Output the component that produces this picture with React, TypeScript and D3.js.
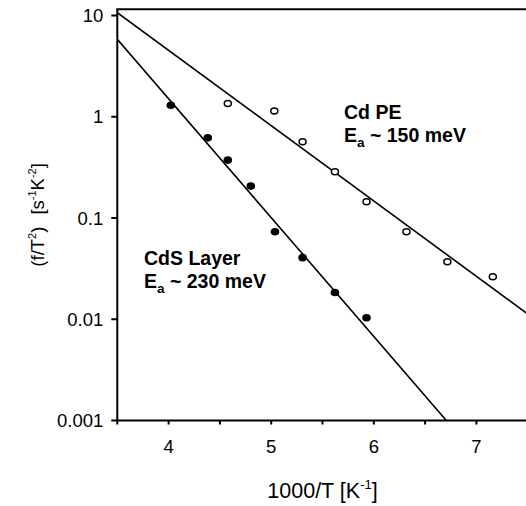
import React from "react";
import * as d3 from "d3";

// ---- data ----
const cdPeX = [4.577, 5.03, 5.306, 5.621, 5.929, 6.318, 6.717, 7.16];
const cdPeY = [1.35, 1.14, 0.565, 0.286, 0.1445, 0.0731, 0.037, 0.0263];

const cdsX = [4.022, 4.382, 4.577, 4.801, 5.037, 5.306, 5.621, 5.929];
const cdsY = [1.3, 0.619, 0.373, 0.2065, 0.0731, 0.0406, 0.0184, 0.01035];

// fitted Arrhenius lines (endpoints in data units)
const cdPeFitX = [3.5, 7.5];
const cdPeFitY = [10.66, 0.01127];
const cdsFitX = [3.5, 6.707];
const cdsFitY = [5.82, 0.001];

const xMajorTicks = [4, 5, 6, 7];
const xAllTicks = [3.5, 4, 4.5, 5, 5.5, 6, 6.5, 7, 7.5];
const yTicks = [10, 1, 0.1, 0.01, 0.001];
const yTickLabels = ["10", "1", "0.1", "0.01", "0.001"];

const W = 526;
const H = 506;
const FONT = "Arial, 'Liberation Sans', Helvetica, sans-serif";

export default function App() {
  const x = d3.scaleLinear().domain([3.5, 7.5]).range([117.3, 527.7]);
  const y = d3.scaleLog().domain([0.001, 10]).range([420.5, 15.5]);
  const plotTop = 9.3;
  const x0 = x(3.5);
  const yBottom = y(0.001);

  const line = d3
    .line<[number, number]>()
    .x((d) => x(d[0]))
    .y((d) => y(d[1]));

  const cdPeFit = cdPeFitX.map((v, i) => [v, cdPeFitY[i]] as [number, number]);
  const cdsFit = cdsFitX.map((v, i) => [v, cdsFitY[i]] as [number, number]);

  return (
    <svg
      width={W}
      height={H}
      style={{ position: "absolute", left: 0, top: 0, background: "#fff" }}
      fontFamily={FONT}
    >
      <defs>
        <clipPath id="plotclip">
          <rect x={x0} y={plotTop} width={x(7.5) - x0} height={yBottom - plotTop} />
        </clipPath>
      </defs>

      {/* fit lines */}
      <g clipPath="url(#plotclip)" fill="none" stroke="#000" strokeWidth={1.6}>
        <path d={line(cdPeFit) || ""} />
        <path d={line(cdsFit) || ""} />
      </g>

      {/* Cd PE open points */}
      {cdPeX.map((v, i) => (
        <ellipse
          key={"o" + i}
          cx={x(v)}
          cy={y(cdPeY[i])}
          rx={3.5}
          ry={3}
          fill="#fff"
          stroke="#000"
          strokeWidth={1.5}
        />
      ))}

      {/* CdS filled points */}
      {cdsX.map((v, i) => (
        <ellipse key={"f" + i} cx={x(v)} cy={y(cdsY[i])} rx={4.3} ry={3.8} fill="#000" />
      ))}

      {/* axes frame */}
      <g stroke="#000" strokeWidth={2} fill="none">
        <line x1={x0} y1={plotTop} x2={x0} y2={yBottom} />
        <line x1={x0 - 1} y1={plotTop} x2={W + 5} y2={plotTop} />
        <line x1={x0 - 1} y1={yBottom} x2={W + 5} y2={yBottom} />
        {yTicks.map((t) => (
          <line key={"yt" + t} x1={x0 - 6} x2={x0} y1={y(t)} y2={y(t)} />
        ))}
        {xAllTicks.map((t) => (
          <line key={"xt" + t} x1={x(t)} x2={x(t)} y1={yBottom} y2={yBottom + 4} />
        ))}
      </g>

      {/* y tick labels */}
      {yTicks.map((t, i) => (
        <text key={"yl" + t} x={x0 - 14} y={y(t) + 6.7} textAnchor="end" fontSize={18.5} fill="#000">
          {yTickLabels[i]}
        </text>
      ))}

      {/* x tick labels */}
      {xMajorTicks.map((t) => (
        <text key={"xl" + t} x={x(t)} y={453} textAnchor="middle" fontSize={18.5} fill="#000">
          {t}
        </text>
      ))}

      {/* x axis title */}
      <text x={(x(3.5) + x(7.5)) / 2} y={497.7} textAnchor="middle" fontSize={21.5} fill="#000">
        1000/T [K
        <tspan fontSize={13} dy={-9}>-1</tspan>
        <tspan dy={9}>]</tspan>
      </text>

      {/* y axis title */}
      <text
        transform={`translate(44,${(plotTop + yBottom) / 2}) rotate(-90)`}
        textAnchor="middle"
        fontSize={18.5}
        fill="#000"
      >
        (f/T
        <tspan fontSize={11} dy={-8}>2</tspan>
        <tspan dy={8}>)</tspan>
        <tspan dx={12}>[s</tspan>
        <tspan fontSize={11} dy={-8}>-1</tspan>
        <tspan dy={8}>K</tspan>
        <tspan fontSize={11} dy={-8}>-2</tspan>
        <tspan dy={8}>]</tspan>
      </text>

      {/* annotations */}
      <g fontWeight="bold" fontSize={19.5} fill="#000">
        <text x={344} y={119.3}>Cd PE</text>
        <text x={344} y={141.5}>
          E<tspan fontSize={13.5} dy={5}>a</tspan>
          <tspan dy={-5}> ~ 150 meV</tspan>
        </text>
        <text x={144} y={265}>CdS Layer</text>
        <text x={144} y={288.3}>
          E<tspan fontSize={13.5} dy={5}>a</tspan>
          <tspan dy={-5}> ~ 230 meV</tspan>
        </text>
      </g>
    </svg>
  );
}
